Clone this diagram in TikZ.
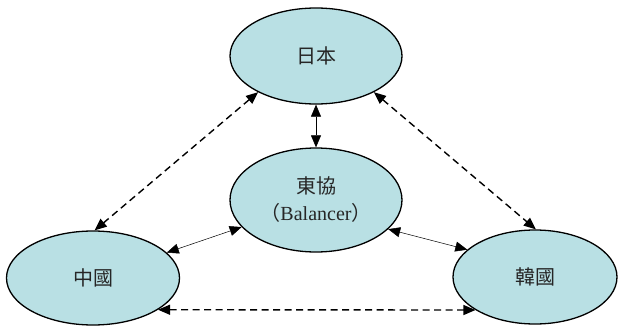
\documentclass[tikz,border=0pt]{standalone}
\usepackage{fontspec}
\setmainfont{Liberation Serif}
\newfontfamily\cjk{Noto Sans CJK TC}
\usetikzlibrary{shapes.geometric,arrows.meta}
\definecolor{nodefill}{RGB}{185,224,228}

\begin{document}
\begin{tikzpicture}[x=1pt,y=1pt,
  country/.style={ellipse,draw,line width=1.3pt,fill=nodefill,inner sep=0pt,
    align=center,text=black!85,font=\fontsize{20}{27}\selectfont},
  link/.style={{Triangle[length=12pt,width=10pt]}-{Triangle[length=12pt,width=10pt]},
    line width=0.5pt},
  tie/.style={link,line width=1.4pt,dash pattern=on 7pt off 4.5pt}]
\useasboundingbox (0,0) rectangle (618,325);
% the four parties
\node[country,minimum width=172pt,minimum height=96pt] (riben) at (316,269) {\cjk 日本};
\node[country,minimum width=172pt,minimum height=104pt] (dongxie) at (316,125)
  {\cjk 東協\\{\cjk （}Balancer{\cjk ）}};
\node[country,minimum width=173pt,minimum height=94pt] (zhongguo) at (93,47) {\cjk 中國};
\node[country,minimum width=164pt,minimum height=94pt] (hanguo) at (535,48) {\cjk 韓國};
% balancer links
\draw[link] (riben.south) -- (dongxie.north);
\draw[link] (dongxie.200) -- (zhongguo.19);
\draw[link] (dongxie.338) -- (hanguo.158);
% direct ties
\draw[tie] (riben.212) -- (zhongguo.88);
\draw[tie] (riben.328) -- (hanguo.89);
\draw[tie] (zhongguo.334) -- (hanguo.209);
\end{tikzpicture}
\end{document}
